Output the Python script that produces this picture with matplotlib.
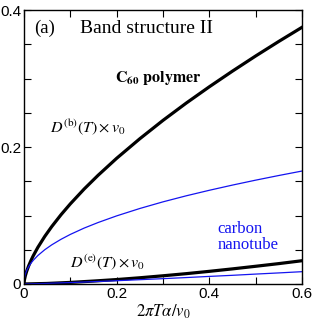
import matplotlib
matplotlib.use("Agg")
import matplotlib.pyplot as plt
import numpy as np

plt.rcParams["mathtext.fontset"] = "stix"

# data
x_b = [0.0, 0.001, 0.003, 0.006, 0.01, 0.015, 0.02, 0.03, 0.045, 0.06, 0.08, 0.1,
       0.13, 0.16, 0.2, 0.25, 0.3, 0.35, 0.4, 0.45, 0.5, 0.55, 0.6]
c60_b = [0.0, 0.0059, 0.012, 0.0188, 0.0262, 0.0341, 0.0411, 0.0535, 0.0696, 0.0839,
         0.1012, 0.117, 0.1388, 0.1588, 0.1836, 0.2122, 0.239, 0.2642, 0.2881, 0.311,
         0.3331, 0.3544, 0.375]
cnt_b = [0.0, 0.0087, 0.0144, 0.0198, 0.0251, 0.0302, 0.0345, 0.0416, 0.0501, 0.0572,
         0.0653, 0.0724, 0.0817, 0.0898, 0.0995, 0.1103, 0.12, 0.1288, 0.1369, 0.1445,
         0.1517, 0.1585, 0.165]
x_e = [0.0, 0.05, 0.1, 0.15, 0.2, 0.25, 0.3, 0.35, 0.4, 0.45, 0.5, 0.55, 0.6]
c60_e = [0.0, 0.0008, 0.0023, 0.0043, 0.0065, 0.0091, 0.012, 0.0151, 0.0185, 0.0221,
         0.0259, 0.0298, 0.034]
cnt_e = [0.0, 0.0009, 0.0021, 0.0034, 0.0048, 0.0063, 0.0078, 0.0094, 0.0111, 0.0127,
         0.0145, 0.0162, 0.018]

xticks_major = [0, 0.2, 0.4, 0.6]
xtick_labels = ["0", "0.2", "0.4", "0.6"]
yticks_major = [0, 0.2, 0.4]
ytick_labels = ["0", "0.2", "0.4"]

serif = ["Liberation Serif", "DejaVu Serif"]
sans = ["Liberation Sans", "DejaVu Sans"]
blue = "#1414f0"

fig = plt.figure(figsize=(3.15, 3.27), dpi=100)
ax = fig.add_axes([0.076, 0.1315, 0.883, 0.8375])

ax.plot(x_b, c60_b, color="black", lw=2.3)
ax.plot(x_b, cnt_b, color=blue, lw=0.9)
ax.plot(x_e, c60_e, color="black", lw=2.3)
ax.plot(x_e, cnt_e, color=blue, lw=0.9)

ax.set_xlim(0, 0.6)
ax.set_ylim(0, 0.4)
ax.set_xticks(xticks_major)
ax.set_xticklabels(xtick_labels, fontfamily=sans, fontsize=11)
ax.set_xticks(np.arange(0, 0.61, 0.1), minor=True)
ax.set_yticks(yticks_major)
ax.set_yticklabels(ytick_labels, fontfamily=sans, fontsize=11)
ax.set_yticks(np.arange(0, 0.41, 0.05), minor=True)
ax.tick_params(which="both", direction="in", top=True, right=True, width=0.8)
ax.tick_params(which="major", length=5, pad=2)
ax.tick_params(which="minor", length=5)
for s in ax.spines.values():
    s.set_linewidth(1.0)

ax.text(0.023, 0.373, "(a)", family=serif, fontsize=13.5, va="center")
ax.text(0.121, 0.373, "Band structure II", family=serif, fontsize=14, va="center")
ax.text(0.197, 0.301, r"$\mathbf{C_{60}\ polymer}$", fontsize=11.5, va="center")
ax.text(0.056, 0.229, r"$D^{\mathrm{(b)}}(T)\times v_0$", fontsize=11.5, va="center")
ax.text(0.417, 0.069, "carbon\nnanotube", family=serif, fontsize=12,
        color=blue, va="center", ha="left", linespacing=1.0)
ax.text(0.099, 0.032, r"$D^{\mathrm{(e)}}(T)\times v_0$", fontsize=11.5, va="center")
ax.set_xlabel(r"$2\pi T\alpha/v_0$", fontsize=12, labelpad=1)

fig.savefig("out.png", dpi=100)
